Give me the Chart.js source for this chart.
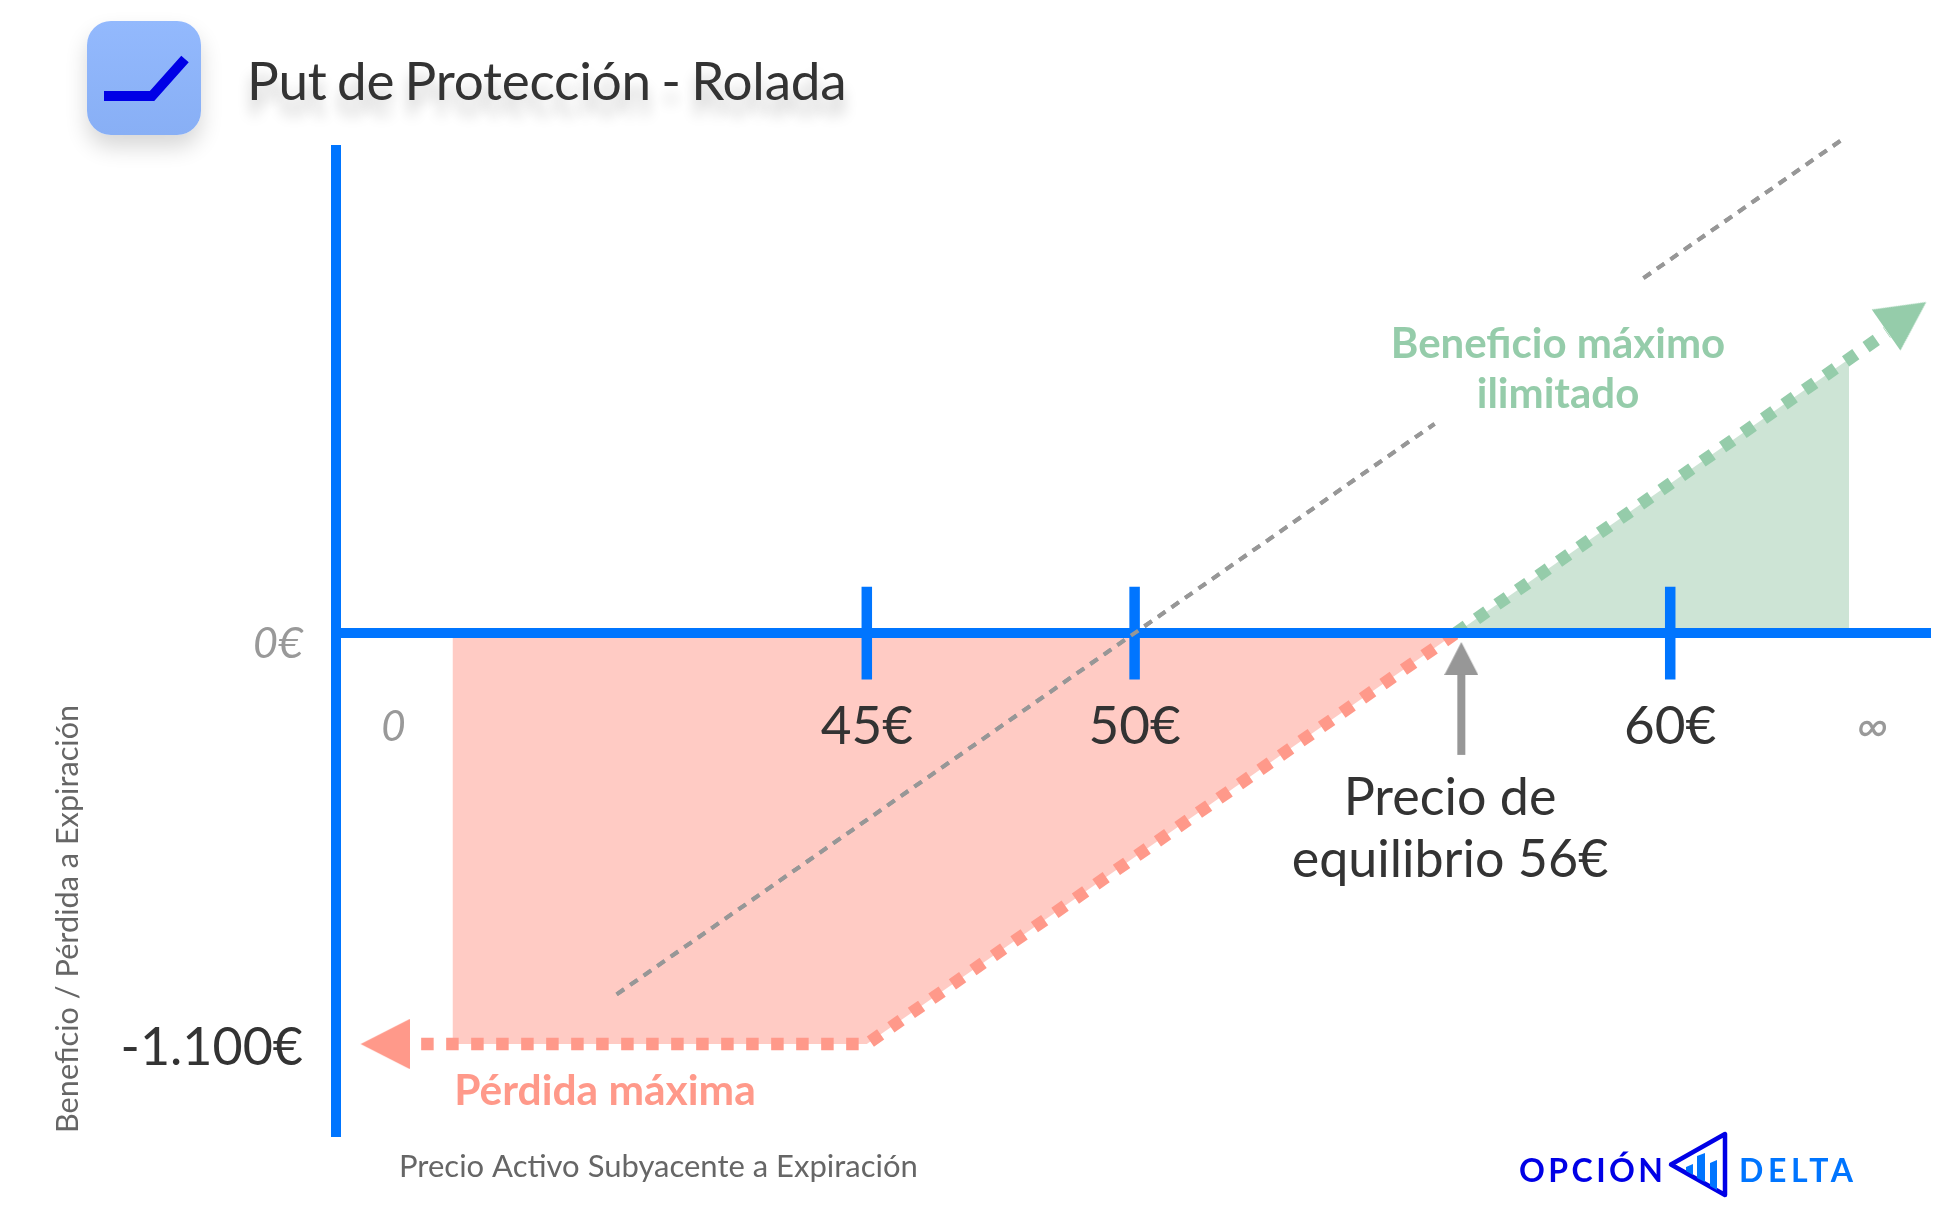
<!DOCTYPE html>
<html>
<head>
<meta charset="utf-8">
<script src="https://cdn.jsdelivr.net/npm/chart.js@4"></script>
<style>
html,body{margin:0;padding:0;background:#fff;}
#stage{position:relative;width:1955px;height:1230px;overflow:hidden;background:#fff;}
canvas#c{position:absolute;left:0;top:0;}
#icon{position:absolute;left:87px;top:21px;width:114px;height:114px;border-radius:24px;background:linear-gradient(180deg,#93b9fd,#88aff5);box-shadow:0 12px 22px rgba(0,0,0,.16);}
#title{position:absolute;left:247px;top:48px;font:53px Lato,sans-serif;letter-spacing:-.2px;word-spacing:-3px;color:#333;white-space:nowrap;text-shadow:0 15px 14px rgba(0,0,0,.22);}
svg{position:absolute;left:0;top:0;pointer-events:none;}
</style>
</head>
<body>
<div id="stage">
<canvas id="c" width="1955" height="1230"></canvas>
<div id="icon"></div>
<div id="title">Put de Protección - Rolada</div>
<svg width="1955" height="1230">
  <polyline points="104,96 152,96 185,59" fill="none" stroke="#0000e6" stroke-width="10"/>
  <text x="1519" y="1182" font-family="Lato" font-weight="700" font-size="32" fill="#0000e6" textLength="144" lengthAdjust="spacing">OPCIÓN</text>
  <text x="1739" y="1182" font-family="Lato" font-weight="700" font-size="32" fill="#0075ff" textLength="114" lengthAdjust="spacing">DELTA</text>
  <path d="M1671,1164.5 L1725,1134 L1725,1195 Z" fill="none" stroke="#0000e6" stroke-width="4.5" stroke-linejoin="round"/>
  <path d="M1686,1167 L1693,1164 L1693,1175 L1686,1171 Z M1697,1156 L1705,1153 L1705,1182 L1697,1178 Z M1710,1163 L1717,1160 L1717,1190 L1710,1186 Z" fill="#0075ff"/>
</svg>
</div>
<script>
// Chart values (price in €, profit / loss in €)
const xTickValues = [36.16, 45, 50, 60, 63.78];
const xTickLabels = ['0', '45€', '50€', '60€', '∞'];
const yTickValues = [0, -1100];
const yTickLabels = [['', '0€'], '-1.100€'];
const tickMarkPrices = [45, 50, 60];
const lossLine = [[36.68, -1100], [45, -1100], [56, 0]];
const lossArea = [[37.265, -1100], [45, -1100], [56, 0]];
const gainLine = [[56, 0], [64.05, 805]];
const gainArea = [[56, 0], [63.34, 734]];
const stockLow = [[40.33, -967], [55.6, 560]];
const stockHigh = [[59.5, 950], [63.19, 1319]];
const lossArrow = [[35.55, -1100]];
const gainArrow = [[64.78, 886]];
const breakEvenShaft = [[56.1, -326], [56.1, -110]];
const breakEvenArrow = [[56.1, -24]];

const BLUE = '#0075ff', RED = '#ff998a', RED_FILL = '#ffcbc4', GREEN = '#95ccaa', GREEN_FILL = '#cde4d5', GREY = '#979797';

const pts = a => a.map(p => ({x: p[0], y: p[1]}));
function arrowCanvas(color, len, base) {
  const c = document.createElement('canvas');
  c.width = len * 2; c.height = base;
  const g = c.getContext('2d');
  g.fillStyle = color;
  g.beginPath(); g.moveTo(len, base / 2); g.lineTo(0, 0); g.lineTo(0, base); g.closePath(); g.fill();
  return c;
}
const line = (data, color, width, dash, order) => ({data: pts(data), showLine: true, borderColor: color, borderWidth: width, borderDash: dash || [], borderCapStyle: 'butt', borderJoinStyle: 'miter', pointRadius: 0, fill: false, order, clip: false, tension: 0});
const area = (data, color) => ({data: pts(data), showLine: true, borderWidth: 0, borderColor: 'transparent', backgroundColor: color, pointRadius: 0, fill: 'origin', order: 6, tension: 0});
const arrow = (data, color, len, base, rot) => ({data: pts(data), showLine: false, pointStyle: arrowCanvas(color, len, base), pointRadius: 10, pointRotation: rot, order: 2, clip: false});

const datasets = [
  area(lossArea, RED_FILL),
  area(gainArea, GREEN_FILL),
  line(lossLine, RED, 12.5, [12.5, 12.5], 4),
  line(gainLine, GREEN, 12.5, [12.5, 12.5], 4),
  ...tickMarkPrices.map(p => line([[p, -124], [p, 124]], BLUE, 10.5, null, 3)),
  line(breakEvenShaft, GREY, 8, null, 2),
  arrow(lossArrow, RED, 49, 50, 180),
  arrow(gainArrow, GREEN, 49, 50, -34.9),
  arrow(breakEvenArrow, GREY, 33, 34, -90),
  line(stockLow, GREY, 4, [9, 7.5], 1),
  line(stockHigh, GREY, 4, [9, 7.5], 1)
];

const notes = {
  id: 'notes',
  afterDraw(chart) {
    const ctx = chart.ctx;
    // stock dashes sit over the blue axes
    chart.data.datasets.forEach((d, i) => { if (d.order === 1) chart.getDatasetMeta(i).dataset.draw(ctx); });
    const put = (t, x, y, font, color, align) => {
      ctx.save(); ctx.font = font; ctx.fillStyle = color; ctx.textAlign = align || 'center'; ctx.textBaseline = 'middle';
      ctx.fillText(t, x, y); ctx.restore();
    };
    put('Beneficio máximo', 1558, 344, '700 42px Lato', GREEN);
    put('ilimitado', 1558, 394, '700 42px Lato', GREEN);
    put('Pérdida máxima', 605, 1091, '700 42.5px Lato', RED);
    put('Precio de', 1450, 798, '52px Lato', '#333');
    put('equilibrio 56€', 1450, 860, '52px Lato', '#333');
    put('Precio Activo Subyacente a Expiración', 399, 1167, '31px Lato', '#666', 'left');
    ctx.save(); ctx.translate(68, 1133); ctx.rotate(-Math.PI / 2);
    put('Beneficio / Pérdida a Expiración', 0, 0, '30.7px Lato', '#666', 'left');
    ctx.restore();
  }
};

const xFont = size => ({family: 'Lato', size, lineHeight: 64 / size});

new Chart(document.getElementById('c'), {
  type: 'scatter',
  data: {datasets},
  plugins: [notes],
  options: {
    responsive: false,
    animation: false,
    layout: {padding: {top: 150, bottom: 94, right: 25, left: 0}},
    plugins: {legend: {display: false}, tooltip: {enabled: false}, title: {display: false}},
    scales: {
      x: {
        type: 'linear', min: 35.09, max: 64.85, position: {y: 0},
        grid: {display: false, drawTicks: false},
        border: {display: true, color: BLUE, width: 10, z: 1},
        afterBuildTicks(s) { s.ticks = xTickValues.map(v => ({value: v})); },
        ticks: {
          z: 1, autoSkip: false, maxRotation: 0, padding: 62,
          callback: (v, i) => xTickLabels[i],
          font: c => { const t = xTickLabels[c.index]; return t === '0' ? {...xFont(42), style: 'italic'} : t === '∞' ? {...xFont(46), style: 'italic'} : xFont(53); },
          color: c => { const t = xTickLabels[c.index]; return (t === '0' || t === '∞') ? '#999' : '#333'; }
        }
      },
      y: {
        type: 'linear', min: -1346, max: 1293, position: 'left',
        grid: {display: false, drawTicks: false},
        border: {display: true, color: BLUE, width: 10, z: 1},
        afterBuildTicks(s) { s.ticks = yTickValues.map(v => ({value: v})); },
        afterFit(s) { s.width = 336; },
        ticks: {
          z: 1, autoSkip: false, padding: 33, labelOffset: 4,
          callback: (v, i) => yTickLabels[i],
          font: c => c.index === 0 ? {family: 'Lato', size: 43, style: 'italic', lineHeight: 14 / 43} : {family: 'Lato', size: 52},
          color: c => c.index === 0 ? '#999' : '#333'
        }
      }
    }
  }
});
</script>
</body>
</html>
